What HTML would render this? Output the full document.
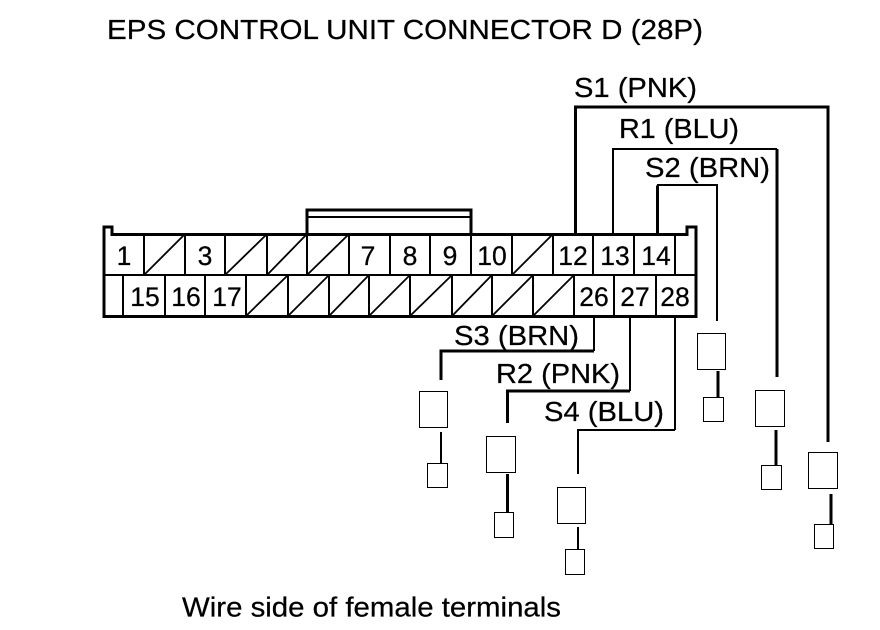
<!DOCTYPE html>
<html>
<head>
<meta charset="utf-8">
<style>
html,body{margin:0;padding:0;background:#fff;width:880px;height:630px;overflow:hidden}
svg{display:block}
text{font-family:"Liberation Sans",sans-serif;font-size:27.500px;fill:#000;stroke:#000;stroke-width:.25px}
text.n{text-anchor:middle;font-size:26.500px}
</style>
</head>
<body>
<svg width="880" height="630" viewBox="0 0 880 630" xmlns="http://www.w3.org/2000/svg">
<rect width="880" height="630" fill="#fff"/>
<text x="107" y="39" textLength="596" lengthAdjust="spacingAndGlyphs">EPS CONTROL UNIT CONNECTOR D (28P)</text>

<!-- connector body -->
<g fill="none" stroke="#000" shape-rendering="crispEdges">
  <path stroke-width="3" d="M307 234V210H471V234"/>
  <path stroke-width="2" d="M307 217H471"/>
  <path stroke-width="3" d="M104 316.500V227H112V234.500H687V227H696V316.500Z"/>
  <path stroke-width="2" d="M104 275H696"/>
  <path stroke-width="2" d="M144 235V275M185 235V275M225 235V275M267 235V275M307 235V275M349 235V275M390 235V275M430 235V275M471 235V275M512 235V275M553 235V275M593 235V275M634 235V275M675 235V275"/>
  <path stroke-width="2" d="M123 275V316M165 275V316M205 275V316M246 275V316M288 275V316M329 275V316M369 275V316M410 275V316M452 275V316M492 275V316M533 275V316M574 275V316M614 275V316M656 275V316"/>
</g>
<g stroke="#000" stroke-width="1.800" fill="none">
  <path d="M145 274L184 235M226 274L266 235M268 274L306 235M308 274L348 235M513 274L552 235"/>
  <path d="M247 315L287 276M289 315L328 276M330 315L368 276M370 315L409 276M411 315L451 276M453 315L491 276M493 315L532 276M534 315L573 276"/>
</g>

<!-- wires -->
<g fill="none" stroke="#000" shape-rendering="crispEdges">
  <path stroke-width="3" d="M575.500 234V107H828V442"/>
  <path stroke-width="2" d="M613 234V149H777"/>
  <path stroke-width="3" d="M777 149V377"/>
  <path stroke-width="3" d="M657.500 234V185.500"/>
  <path stroke-width="2" d="M657 185H717V321"/>
  <path stroke-width="2" d="M594 317V351"/>
  <path stroke-width="3" d="M594 351H441V380"/>
  <path stroke-width="2" d="M630 317V391"/>
  <path stroke-width="3" d="M630 391H507.500V423"/>
  <path stroke-width="2" d="M675 317V430"/>
  <path stroke-width="2" d="M675 430H578V474"/>
  <!-- stubs -->
  <path stroke-width="3" d="M718 371V397"/>
  <path stroke-width="3" d="M776 430V466"/>
  <path stroke-width="3" d="M831 494V525"/>
  <path stroke-width="2" d="M441 432V464"/>
  <path stroke-width="3" d="M507.500 474V513"/>
  <path stroke-width="2" d="M578 527V550"/>
</g>

<!-- terminals -->
<g fill="#fff" stroke="#000" stroke-width="1" shape-rendering="crispEdges">
  <rect x="697.500" y="333.500" width="28" height="36"/>
  <rect x="703.500" y="397.500" width="20" height="24"/>
  <rect x="755.500" y="390.500" width="29" height="36"/>
  <rect x="761.500" y="465.500" width="20" height="24"/>
  <rect x="808.500" y="452.500" width="29" height="36"/>
  <rect x="814.500" y="524.500" width="19" height="24"/>
  <rect x="419.500" y="391.500" width="28" height="36"/>
  <rect x="427.500" y="463.500" width="20" height="24"/>
  <rect x="486.500" y="436.500" width="29" height="36"/>
  <rect x="494.500" y="512.500" width="19" height="25"/>
  <rect x="557.500" y="487.500" width="28" height="36"/>
  <rect x="565.500" y="549.500" width="19" height="25"/>
</g>

<!-- pin numbers -->
<g>
  <text class="n" x="124" y="265">1</text>
  <text class="n" x="205" y="265">3</text>
  <text class="n" x="368" y="265">7</text>
  <text class="n" x="410" y="265">8</text>
  <text class="n" x="450" y="265">9</text>
  <text class="n" x="492" y="265">10</text>
  <text class="n" x="573" y="265">12</text>
  <text class="n" x="615" y="265">13</text>
  <text class="n" x="656" y="265">14</text>
  <text class="n" x="145" y="306">15</text>
  <text class="n" x="186" y="306">16</text>
  <text class="n" x="227" y="306">17</text>
  <text class="n" x="594" y="306">26</text>
  <text class="n" x="635" y="306">27</text>
  <text class="n" x="675" y="306">28</text>
</g>

<!-- wire labels -->
<text x="574" y="97" textLength="123" lengthAdjust="spacingAndGlyphs">S1 (PNK)</text>
<text x="619" y="138" textLength="120" lengthAdjust="spacingAndGlyphs">R1 (BLU)</text>
<text x="645" y="177" textLength="125" lengthAdjust="spacingAndGlyphs">S2 (BRN)</text>
<text x="454" y="345" textLength="125" lengthAdjust="spacingAndGlyphs">S3 (BRN)</text>
<text x="496" y="383" textLength="124" lengthAdjust="spacingAndGlyphs">R2 (PNK)</text>
<text x="544" y="421" textLength="120" lengthAdjust="spacingAndGlyphs">S4 (BLU)</text>
<text x="182" y="616.500" textLength="379" lengthAdjust="spacingAndGlyphs">Wire side of female terminals</text>
</svg>
</body>
</html>
